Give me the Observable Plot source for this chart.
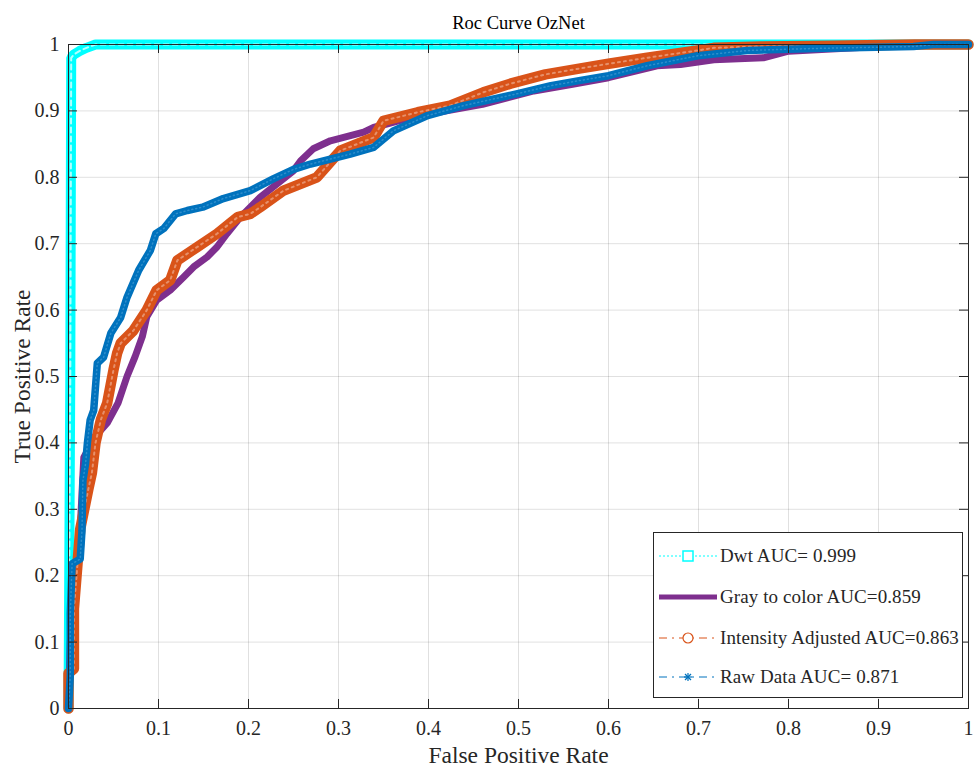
<!DOCTYPE html>
<html>
<head>
<meta charset="utf-8">
<script src="https://cdn.jsdelivr.net/npm/d3@7"></script>
<script src="https://cdn.jsdelivr.net/npm/@observablehq/plot@0.6"></script>
<style>
  html, body { margin: 0; padding: 0; background: #fff; }
  #wrap { position: relative; width: 974px; height: 767px; }
  #legend { position: absolute; left: 653px; top: 532px; width: 310px; height: 166px;
    border: 1px solid #262626; background: #fff; font-family: "Liberation Serif", serif;
    font-size: 19px; letter-spacing: 0.1px; color: #262626; box-sizing: border-box; }
  .row { position: absolute; left: 0; height: 24px; display: flex; align-items: center; white-space: nowrap; }
  .row svg { display: block; margin-left: 5px; margin-right: 3px; }
</style>
</head>
<body>
<div id="wrap"></div>
<script>
// ---- data ----
const xTicks = [0, 0.1, 0.2, 0.3, 0.4, 0.5, 0.6, 0.7, 0.8, 0.9, 1];
const yTicks = [0, 0.1, 0.2, 0.3, 0.4, 0.5, 0.6, 0.7, 0.8, 0.9, 1];

const seriesNames = ["Dwt AUC= 0.999", "Gray to color AUC=0.859", "Intensity Adjusted AUC=0.863", "Raw Data AUC= 0.871"];

const dwtFpr = [0, 0.002, 0.003, 0.006, 0.012, 0.02, 0.03, 1];
const dwtTpr = [0, 0.5, 0.98, 0.985, 0.99, 0.995, 1, 1];

const grayFpr = [0, 0.002, 0.005, 0.01, 0.013, 0.017, 0.03, 0.043, 0.055, 0.065, 0.074, 0.082, 0.087, 0.098, 0.113, 0.128, 0.139, 0.154, 0.165, 0.176, 0.191, 0.213, 0.25, 0.258, 0.272, 0.291, 0.328, 0.339, 0.38, 0.42, 0.46, 0.517, 0.56, 0.6, 0.654, 0.68, 0.717, 0.772, 0.8, 0.9, 0.95, 1];
const grayTpr = [0, 0.1, 0.15, 0.22, 0.27, 0.378, 0.41, 0.43, 0.46, 0.5, 0.53, 0.56, 0.59, 0.615, 0.63, 0.65, 0.665, 0.68, 0.695, 0.715, 0.74, 0.77, 0.81, 0.825, 0.843, 0.855, 0.868, 0.875, 0.89, 0.9, 0.91, 0.93, 0.94, 0.95, 0.968, 0.97, 0.977, 0.98, 0.99, 0.997, 1, 1];

const intFpr = [0, 0, 0.006, 0.006, 0.01, 0.013, 0.019, 0.022, 0.026, 0.03, 0.036, 0.043, 0.05, 0.054, 0.058, 0.072, 0.087, 0.098, 0.113, 0.121, 0.143, 0.165, 0.188, 0.202, 0.213, 0.239, 0.276, 0.302, 0.339, 0.35, 0.388, 0.424, 0.461, 0.491, 0.53, 0.569, 0.6, 0.643, 0.699, 0.717, 0.77, 0.85, 0.94, 1];
const intTpr = [0, 0.053, 0.06, 0.15, 0.218, 0.27, 0.31, 0.33, 0.355, 0.4, 0.435, 0.46, 0.51, 0.535, 0.55, 0.569, 0.6, 0.63, 0.645, 0.675, 0.695, 0.715, 0.74, 0.745, 0.755, 0.78, 0.8, 0.84, 0.86, 0.885, 0.898, 0.908, 0.928, 0.941, 0.955, 0.964, 0.971, 0.98, 0.991, 0.995, 0.997, 0.998, 1, 1];

const rawFpr = [0, 0.002, 0.002, 0.004, 0.013, 0.015, 0.016, 0.019, 0.021, 0.024, 0.028, 0.032, 0.039, 0.047, 0.058, 0.065, 0.078, 0.091, 0.097, 0.106, 0.119, 0.132, 0.149, 0.172, 0.202, 0.228, 0.25, 0.269, 0.313, 0.339, 0.361, 0.399, 0.439, 0.499, 0.536, 0.569, 0.6, 0.643, 0.699, 0.754, 0.828, 0.939, 0.961, 1];
const rawTpr = [0, 0.05, 0.143, 0.218, 0.225, 0.268, 0.343, 0.369, 0.4, 0.434, 0.449, 0.52, 0.529, 0.565, 0.589, 0.619, 0.66, 0.69, 0.715, 0.723, 0.745, 0.75, 0.755, 0.768, 0.78, 0.798, 0.812, 0.82, 0.835, 0.845, 0.87, 0.893, 0.908, 0.926, 0.938, 0.946, 0.953, 0.968, 0.983, 0.991, 0.994, 0.997, 1, 1];

const colors = ["#00FFFF", "#7E2F8E", "#D95319", "#0072BD"];

const toRows = (fx, fy) => fx.map((x, i) => ({x, y: fy[i]}));
const dwt = toRows(dwtFpr, dwtTpr);
const gray = toRows(grayFpr, grayTpr);
const inten = toRows(intFpr, intTpr);
const raw = toRows(rawFpr, rawTpr);

const W = 974, H = 767, mL = 68, mR = 6, mT = 44, mB = 59;
const pw = W - mL - mR, ph = H - mT - mB;
const ink = "#262626";
const font = "Liberation Serif";

const chart = Plot.plot({
  width: W, height: H,
  marginLeft: mL, marginRight: mR, marginTop: mT, marginBottom: mB,
  x: {domain: [0, 1]},
  y: {domain: [0, 1]},
  style: {fontFamily: font, background: "#fff", color: ink},
  marks: [
    Plot.gridX(xTicks, {stroke: "#000", strokeOpacity: 0.12, strokeWidth: 1}),
    Plot.gridY(yTicks, {stroke: "#000", strokeOpacity: 0.12, strokeWidth: 1}),
    // Dwt
    Plot.line(dwt, {x: "x", y: "y", stroke: colors[0], strokeWidth: 10, strokeLinejoin: "miter"}),
    Plot.line(dwt, {x: "x", y: "y", stroke: "#fff", strokeWidth: 2, strokeDasharray: "5,4", strokeOpacity: 0.7}),
    // Gray to color
    Plot.line(gray, {x: "x", y: "y", stroke: colors[1], strokeWidth: 7}),
    // Intensity adjusted
    Plot.line(inten, {x: "x", y: "y", stroke: colors[2], strokeWidth: 10.5}),
    Plot.line(inten, {x: "x", y: "y", stroke: "#eaa07f", strokeWidth: 2, strokeDasharray: "2,4", strokeOpacity: 0.8}),
    // Raw data
    Plot.line(raw, {x: "x", y: "y", stroke: colors[3], strokeWidth: 7.5}),
    Plot.line(raw, {x: "x", y: "y", stroke: "#3a95d0", strokeWidth: 1.5, strokeDasharray: "1,3", strokeOpacity: 0.8}),
    // box + inward ticks
    Plot.frame({stroke: ink, strokeWidth: 1}),
    Plot.tickX(xTicks, {x: d => d, stroke: ink, insetTop: ph - 9}),
    Plot.tickX(xTicks, {x: d => d, stroke: ink, insetBottom: ph - 9}),
    Plot.tickY(yTicks, {y: d => d, stroke: ink, insetRight: pw - 9}),
    Plot.tickY(yTicks, {y: d => d, stroke: ink, insetLeft: pw - 9}),
    Plot.axisX(xTicks, {tickSize: 0, tickPadding: 12, fontSize: 20, tickFormat: d => String(d), label: null, fill: ink}),
    Plot.axisY(yTicks, {tickSize: 0, tickPadding: 9, fontSize: 20, tickFormat: d => String(d), label: null, fill: ink}),
    Plot.text(["False Positive Rate"], {frameAnchor: "bottom", textAnchor: "middle", lineAnchor: "middle", dy: 47, fontSize: 23.5, fill: ink, style: "letter-spacing:0.35px"}),
    Plot.text(["True Positive Rate"], {frameAnchor: "left", textAnchor: "middle", lineAnchor: "middle", dx: -46, rotate: -90, fontSize: 23.5, fill: ink, style: "letter-spacing:0.5px"}),
    Plot.text(["Roc Curve OzNet"], {frameAnchor: "top", textAnchor: "middle", lineAnchor: "middle", dy: -21, fontSize: 18.5, fill: "#000"})
  ]
});

const wrap = document.getElementById("wrap");
wrap.appendChild(chart);

// ---- legend (inside the axes, bottom right) ----
const legend = document.createElement("div");
legend.id = "legend";
const rowTops = [11, 52, 93, 132];
const samples = [
  `<line x1="0" y1="12" x2="58" y2="12" stroke="${colors[0]}" stroke-width="1" stroke-dasharray="2,2"/>
   <rect x="24" y="7" width="10" height="10" fill="#fff" stroke="${colors[0]}" stroke-width="1.5"/>`,
  `<line x1="0" y1="12" x2="58" y2="12" stroke="${colors[1]}" stroke-width="5"/>`,
  `<line x1="0" y1="12" x2="58" y2="12" stroke="${colors[2]}" stroke-width="1" stroke-dasharray="8,5,2,5"/>
   <circle cx="29" cy="12" r="5" fill="#fff" stroke="${colors[2]}" stroke-width="1.2"/>`,
  `<line x1="0" y1="12" x2="58" y2="12" stroke="${colors[3]}" stroke-width="1" stroke-dasharray="8,5,2,5"/>
   <g stroke="${colors[3]}" stroke-width="1.2"><line x1="25" y1="12" x2="33" y2="12"/><line x1="29" y1="8" x2="29" y2="16"/><line x1="26" y1="9" x2="32" y2="15"/><line x1="32" y1="9" x2="26" y2="15"/></g>`
];
seriesNames.forEach((name, i) => {
  const row = document.createElement("div");
  row.className = "row";
  row.style.top = rowTops[i] + "px";
  row.innerHTML = `<svg width="58" height="24">${samples[i]}</svg><span>${name}</span>`;
  legend.appendChild(row);
});
wrap.appendChild(legend);
</script>
</body>
</html>
